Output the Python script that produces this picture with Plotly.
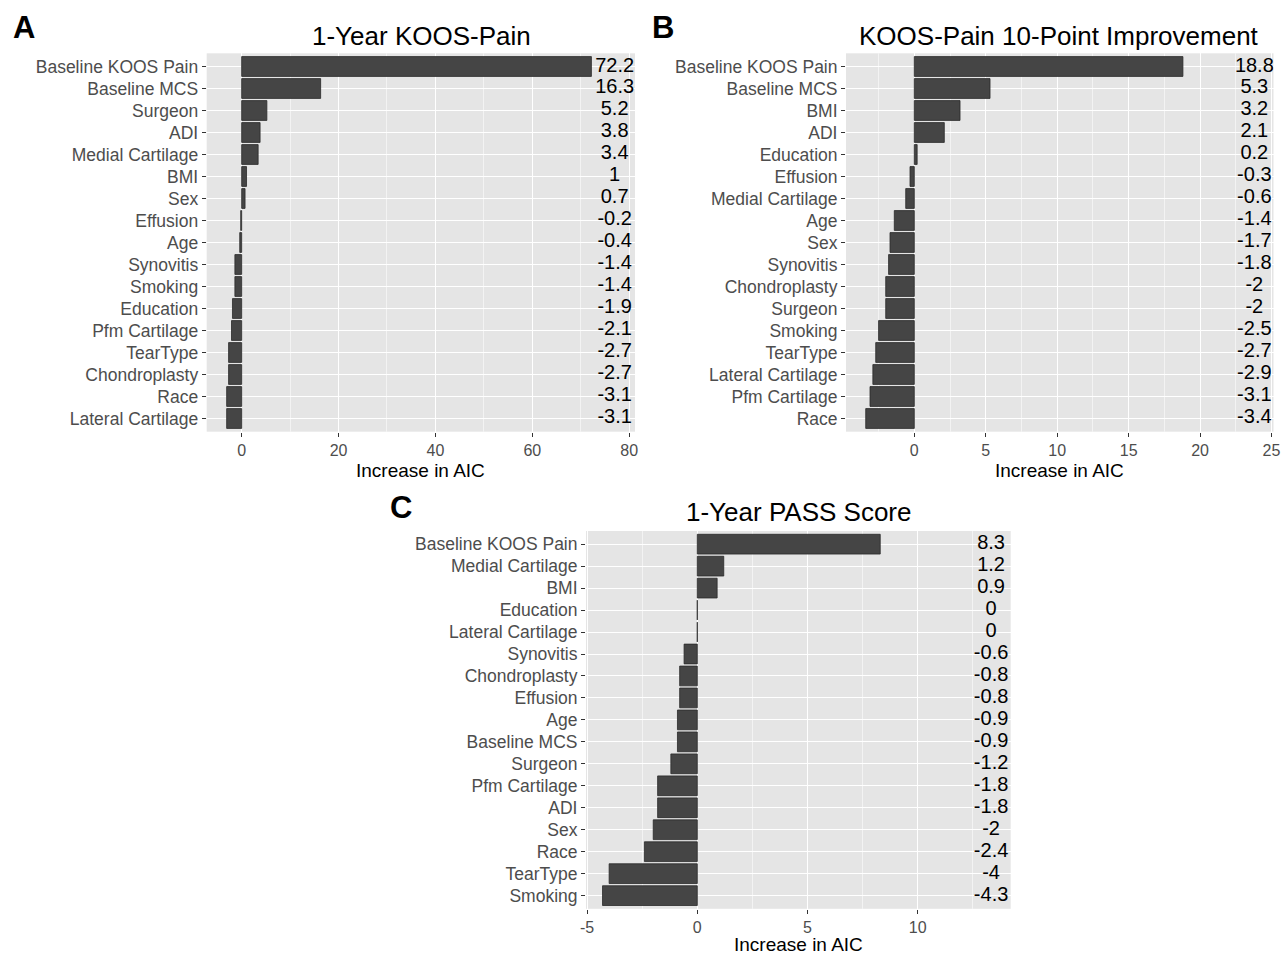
import plotly.graph_objects as go

W, H = 1284, 956

# ---------------- data ----------------
a_labels = ["Baseline KOOS Pain", "Baseline MCS", "Surgeon", "ADI", "Medial Cartilage", "BMI", "Sex",
            "Effusion", "Age", "Synovitis", "Smoking", "Education", "Pfm Cartilage", "TearType",
            "Chondroplasty", "Race", "Lateral Cartilage"]
a_values = [72.2, 16.3, 5.2, 3.8, 3.4, 1, 0.7, -0.2, -0.4, -1.4, -1.4, -1.9, -2.1, -2.7, -2.7, -3.1, -3.1]
a_ticks = [0, 20, 40, 60, 80]

b_labels = ["Baseline KOOS Pain", "Baseline MCS", "BMI", "ADI", "Education", "Effusion", "Medial Cartilage",
            "Age", "Sex", "Synovitis", "Chondroplasty", "Surgeon", "Smoking", "TearType",
            "Lateral Cartilage", "Pfm Cartilage", "Race"]
b_values = [18.8, 5.3, 3.2, 2.1, 0.2, -0.3, -0.6, -1.4, -1.7, -1.8, -2, -2, -2.5, -2.7, -2.9, -3.1, -3.4]
b_ticks = [0, 5, 10, 15, 20, 25]

c_labels = ["Baseline KOOS Pain", "Medial Cartilage", "BMI", "Education", "Lateral Cartilage", "Synovitis",
            "Chondroplasty", "Effusion", "Age", "Baseline MCS", "Surgeon", "Pfm Cartilage", "ADI", "Sex",
            "Race", "TearType", "Smoking"]
c_values = [8.3, 1.2, 0.9, 0, 0, -0.6, -0.8, -0.8, -0.9, -0.9, -1.2, -1.8, -1.8, -2, -2.4, -4, -4.3]
c_ticks = [-5, 0, 5, 10]

titles = ["1-Year KOOS-Pain", "KOOS-Pain 10-Point Improvement", "1-Year PASS Score"]
panel_letters = ["A", "B", "C"]
x_title = "Increase in AIC"

# ---------------- layout geometry (pixels) ----------------
panels = [
    dict(labels=a_labels, values=a_values, ticks=a_ticks, x0=206.7, x1=635.0, y0=53.3, y1=431.7,
         xrange=[-7.22, 81.2], minor=10, label_x=77.0, xtitle_off=39,
         title_xy=(421, 36), letter_xy=(24, 27)),
    dict(labels=b_labels, values=b_values, ticks=b_ticks, x0=846.0, x1=1273.5, y0=53.3, y1=431.7,
         xrange=[-4.78, 25.14], minor=2.5, label_x=23.8, xtitle_off=39,
         title_xy=(1059, 36), letter_xy=(663, 27)),
    dict(labels=c_labels, values=c_values, ticks=c_ticks, x0=586.0, x1=1010.7, y0=531.0, y1=908.8,
         xrange=[-5.05, 14.22], minor=2.5, label_x=13.33, xtitle_off=36,
         title_xy=(798, 512), letter_xy=(401, 507)),
]

FONT = "Liberation Sans, Arial, Helvetica, sans-serif"
BG = "#E5E5E5"
BAR = "#454545"

fig = go.Figure()
layout = dict(width=W, height=H, margin=dict(l=0, r=0, t=0, b=0),
              paper_bgcolor="white", plot_bgcolor=BG, showlegend=False,
              font=dict(family=FONT, color="#4D4D4D"))
annotations = []

for i, p in enumerate(panels):
    sfx = "" if i == 0 else str(i + 1)
    xa, ya = "x" + sfx, "y" + sfx
    n = len(p["labels"])
    fig.add_trace(go.Bar(
        x=p["values"], y=p["labels"], orientation="h", width=0.9,
        marker=dict(color=BAR, line=dict(color="#2A2A2A", width=0.8)),
        xaxis=xa, yaxis=ya, hoverinfo="x+y"))
    fig.add_trace(go.Scatter(
        x=[p["label_x"]] * n, y=p["labels"], mode="text",
        text=[f"{v:g}" for v in p["values"]], textposition="middle center",
        textfont=dict(family=FONT, size=20, color="black"),
        xaxis=xa, yaxis=ya, hoverinfo="skip"))
    xdom = [p["x0"] / W, p["x1"] / W]
    ydom = [1 - p["y1"] / H, 1 - p["y0"] / H]
    layout["xaxis" + sfx] = dict(
        domain=xdom, anchor=ya, range=p["xrange"],
        tickmode="array", tickvals=p["ticks"], ticktext=[f"{t:g}" for t in p["ticks"]],
        showgrid=True, gridcolor="white", gridwidth=1.1, zeroline=False,
        ticks="outside", ticklen=4, tickcolor="#333333", tickwidth=1,
        tickfont=dict(size=16, color="#4D4D4D", family=FONT),
        showline=False, fixedrange=True, automargin=False,
        minor=dict(dtick=p["minor"], tick0=0, showgrid=True, gridcolor="#F3F3F3", gridwidth=0.6, ticks=""))
    layout["yaxis" + sfx] = dict(
        domain=ydom, anchor=xa, type="category", categoryorder="array",
        categoryarray=p["labels"], range=[n - 0.4, -0.6],
        showgrid=True, gridcolor="white", gridwidth=1.1, zeroline=False,
        ticks="outside", ticklen=4, tickcolor="#333333", tickwidth=1, automargin=False,
        tickfont=dict(size=17.5, color="#4D4D4D", family=FONT), fixedrange=True)
    tx, ty = p["title_xy"]
    annotations.append(dict(text=titles[i], x=tx / W, y=1 - ty / H, xref="paper", yref="paper",
                            xanchor="center", yanchor="middle", showarrow=False,
                            font=dict(size=26, color="black", family=FONT)))
    lx, ly = p["letter_xy"]
    annotations.append(dict(text="<b>" + panel_letters[i] + "</b>", x=lx / W, y=1 - ly / H,
                            xref="paper", yref="paper", xanchor="center", yanchor="middle",
                            showarrow=False, font=dict(size=31, color="black", family=FONT)))
    annotations.append(dict(text=x_title, x=(p["x0"] + p["x1"]) / 2 / W,
                            y=1 - (p["y1"] + p["xtitle_off"]) / H,
                            xref="paper", yref="paper", xanchor="center", yanchor="middle",
                            showarrow=False, font=dict(size=19, color="black", family=FONT)))

layout["annotations"] = annotations
layout["bargap"] = 0.1
fig.update_layout(**layout)
fig.write_html("out.html", config={"displayModeBar": False},
               post_script="document.body.style.margin='0';document.body.style.padding='0';"
                           "document.documentElement.style.overflow='hidden';")
